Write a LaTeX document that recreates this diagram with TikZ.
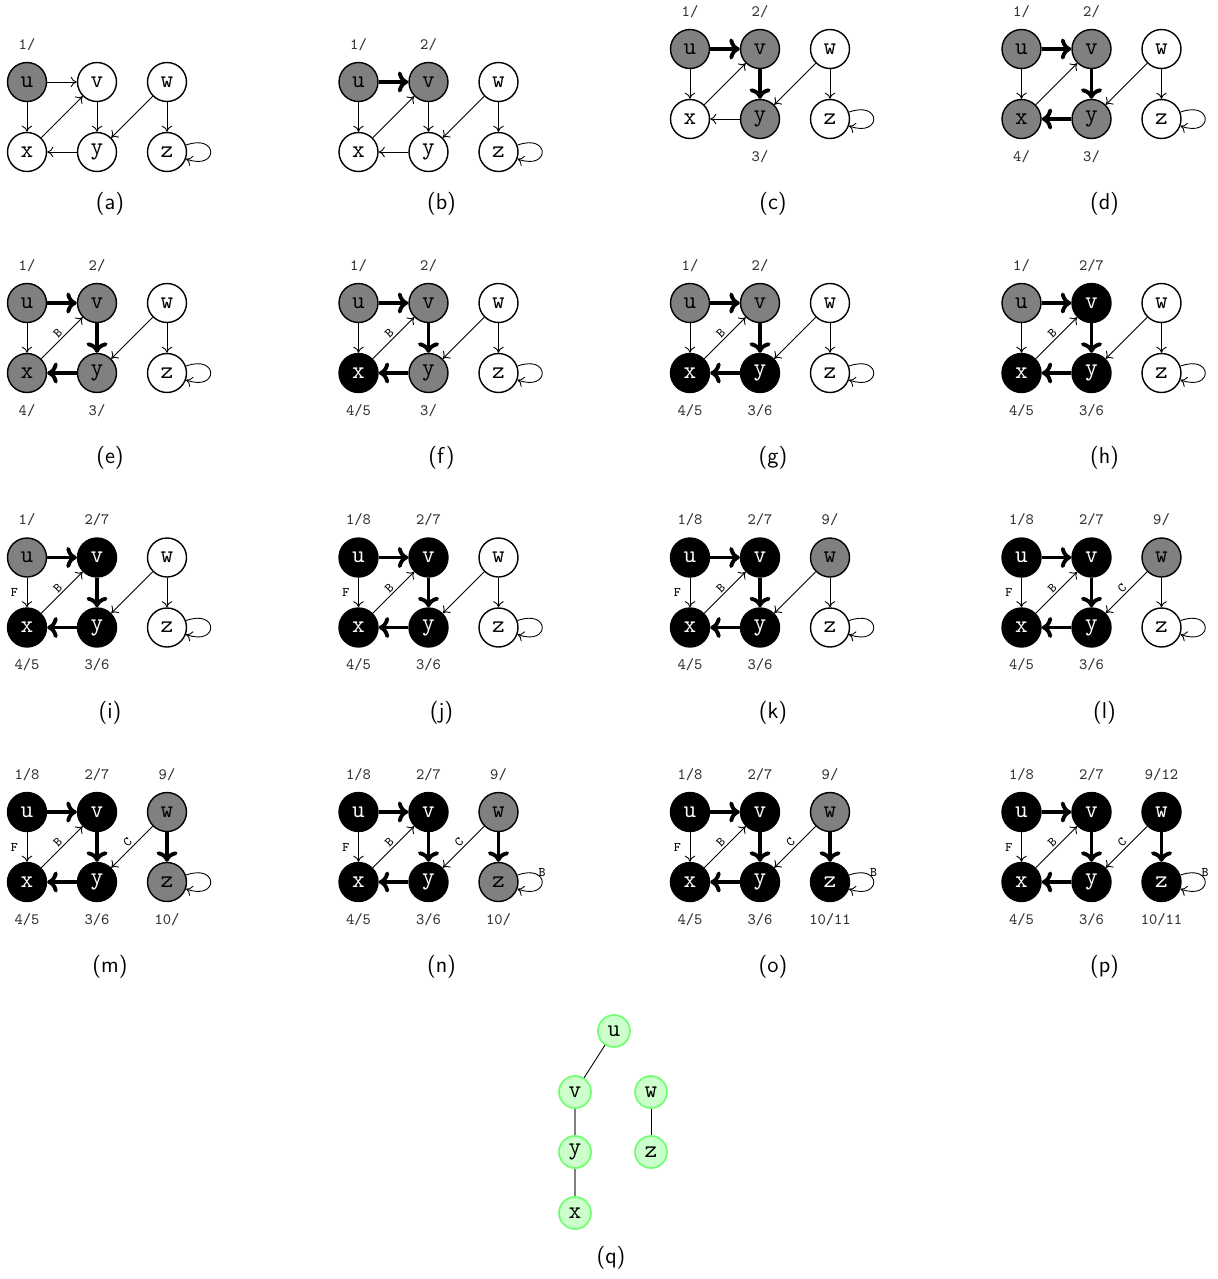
\documentclass[tikz,border=0pt]{standalone}
\usepackage{tikz}
\usetikzlibrary{arrows.meta}

% one DFS snapshot: prefix, then the styles of u v w x y z
\newcommand{\dfsgraph}[7]{%
  \node[#2] (#1u) at (0,0)     {u};
  \node[#3] (#1v) at (70,0)    {v};
  \node[#4] (#1w) at (140,0)   {w};
  \node[#5] (#1x) at (0,-70)   {x};
  \node[#6] (#1y) at (70,-70)  {y};
  \node[#7] (#1z) at (140,-70) {z};
}
% its edges: prefix, then the styles of uv ux xv vy yx wy wz
\newcommand{\dfsedges}[8]{%
  \draw[#2] (#1u) -- (#1v);
  \draw[#3] (#1u) -- (#1x);
  \draw[#4] (#1x) -- (#1v);
  \draw[#5] (#1v) -- (#1y);
  \draw[#6] (#1y) -- (#1x);
  \draw[#7] (#1w) -- (#1y);
  \draw[#8] (#1w) -- (#1z);
  \draw[plainarr] (#1z) to[selfloop] (#1z);
}

\begin{document}
\begin{tikzpicture}[
  x=0.02cm, y=0.02cm,
  vert/.style     = {circle, draw=black, line width=0.8pt, minimum size=0.78cm,
                     inner sep=0pt, font=\ttfamily\fontsize{14}{16}\selectfont},
  vw/.style       = {vert, fill=white},
  vg/.style       = {vert, fill=gray, label={[stamp]above:#1}},
  vb/.style       = {vert, fill=black, text=white, label={[stamp]above:#1}},
  vgl/.style      = {vert, fill=gray, label={[stamp]below:#1}},
  vbl/.style      = {vert, fill=black, text=white, label={[stamp]below:#1}},
  stamp/.style    = {font=\ttfamily\fontsize{9}{10}\selectfont, inner sep=0pt,
                     text height=5.5pt, text depth=0pt, text=black!80},
  label distance  = 6.9pt,
  plainarr/.style = {-{To[length=3.5pt,width=6pt]}, line width=0.5pt},
  treearr/.style  = {-{To[length=6pt,width=12pt]}, line width=2.2pt},
  selfloop/.style = {out=20, in=-20, distance=0.7cm},
  elab/.style     = {font=\ttfamily\fontsize{7.5}{8}\selectfont, inner sep=1pt},
  caption/.style  = {font=\sffamily\fontsize{13}{15}\selectfont},
  tnode/.style    = {circle, draw=green!55, fill=green!20, line width=1pt,
                     minimum size=0.64cm, inner sep=0pt,
                     font=\ttfamily\fontsize{14}{16}\selectfont},
  tlink/.style    = {line width=0.5pt},
  tpath/.style    = {draw=gray, line width=1pt},
]
\useasboundingbox (0,0) rectangle (1218,-1279);

% (a)
\begin{scope}[shift={(27,-82)}]
  \dfsgraph{a}{vg=1/}{vw}{vw}{vw}{vw}{vw}
  \dfsedges{a}{plainarr}{plainarr}{plainarr}{plainarr}{plainarr}{plainarr}{plainarr}
  \node[caption] (acap) at (83,-122) {(a)};
\end{scope}
% (b)
\begin{scope}[shift={(358.5,-82)}]
  \dfsgraph{b}{vg=1/}{vg=2/}{vw}{vw}{vw}{vw}
  \dfsedges{b}{treearr}{plainarr}{plainarr}{plainarr}{plainarr}{plainarr}{plainarr}
  \node[caption] (bcap) at (83,-122) {(b)};
\end{scope}
% (c)
\begin{scope}[shift={(690,-49)}]
  \dfsgraph{c}{vg=1/}{vg=2/}{vw}{vw}{vgl=3/}{vw}
  \dfsedges{c}{treearr}{plainarr}{plainarr}{treearr}{plainarr}{plainarr}{plainarr}
  \node[caption] (ccap) at (83,-155) {(c)};
\end{scope}
% (d)
\begin{scope}[shift={(1021.5,-49)}]
  \dfsgraph{d}{vg=1/}{vg=2/}{vw}{vgl=4/}{vgl=3/}{vw}
  \dfsedges{d}{treearr}{plainarr}{plainarr}{treearr}{treearr}{plainarr}{plainarr}
  \node[caption] (dcap) at (83,-155) {(d)};
\end{scope}

% (e)
\begin{scope}[shift={(27,-303)}]
  \dfsgraph{e}{vg=1/}{vg=2/}{vw}{vgl=4/}{vgl=3/}{vw}
  \dfsedges{e}{treearr}{plainarr}{plainarr}{treearr}{treearr}{plainarr}{plainarr}
  \path (ex) -- node[elab, sloped, above] (eB) {B} (ev);
  \node[caption] (ecap) at (83,-155) {(e)};
\end{scope}
% (f)
\begin{scope}[shift={(358.5,-303)}]
  \dfsgraph{f}{vg=1/}{vg=2/}{vw}{vbl=4/5}{vgl=3/}{vw}
  \dfsedges{f}{treearr}{plainarr}{plainarr}{treearr}{treearr}{plainarr}{plainarr}
  \path (fx) -- node[elab, sloped, above] (fB) {B} (fv);
  \node[caption] (fcap) at (83,-155) {(f)};
\end{scope}
% (g)
\begin{scope}[shift={(690,-303)}]
  \dfsgraph{g}{vg=1/}{vg=2/}{vw}{vbl=4/5}{vbl=3/6}{vw}
  \dfsedges{g}{treearr}{plainarr}{plainarr}{treearr}{treearr}{plainarr}{plainarr}
  \path (gx) -- node[elab, sloped, above] (gB) {B} (gv);
  \node[caption] (gcap) at (83,-155) {(g)};
\end{scope}
% (h)
\begin{scope}[shift={(1021.5,-303)}]
  \dfsgraph{h}{vg=1/}{vb=2/7}{vw}{vbl=4/5}{vbl=3/6}{vw}
  \dfsedges{h}{treearr}{plainarr}{plainarr}{treearr}{treearr}{plainarr}{plainarr}
  \path (hx) -- node[elab, sloped, above] (hB) {B} (hv);
  \node[caption] (hcap) at (83,-155) {(h)};
\end{scope}

% (i)
\begin{scope}[shift={(27,-557.5)}]
  \dfsgraph{i}{vg=1/}{vb=2/7}{vw}{vbl=4/5}{vbl=3/6}{vw}
  \dfsedges{i}{treearr}{plainarr}{plainarr}{treearr}{treearr}{plainarr}{plainarr}
  \path (ix) -- node[elab, sloped, above] (iB) {B} (iv);
  \path (iu) -- node[elab, left=4pt] (iF) {F} (ix);
  \node[caption] (icap) at (83,-155) {(i)};
\end{scope}
% (j)
\begin{scope}[shift={(358.5,-557.5)}]
  \dfsgraph{j}{vb=1/8}{vb=2/7}{vw}{vbl=4/5}{vbl=3/6}{vw}
  \dfsedges{j}{treearr}{plainarr}{plainarr}{treearr}{treearr}{plainarr}{plainarr}
  \path (jx) -- node[elab, sloped, above] (jB) {B} (jv);
  \path (ju) -- node[elab, left=4pt] (jF) {F} (jx);
  \node[caption] (jcap) at (83,-155) {(j)};
\end{scope}
% (k)
\begin{scope}[shift={(690,-557.5)}]
  \dfsgraph{k}{vb=1/8}{vb=2/7}{vg=9/}{vbl=4/5}{vbl=3/6}{vw}
  \dfsedges{k}{treearr}{plainarr}{plainarr}{treearr}{treearr}{plainarr}{plainarr}
  \path (kx) -- node[elab, sloped, above] (kB) {B} (kv);
  \path (ku) -- node[elab, left=4pt] (kF) {F} (kx);
  \node[caption] (kcap) at (83,-155) {(k)};
\end{scope}
% (l)
\begin{scope}[shift={(1021.5,-557.5)}]
  \dfsgraph{l}{vb=1/8}{vb=2/7}{vg=9/}{vbl=4/5}{vbl=3/6}{vw}
  \dfsedges{l}{treearr}{plainarr}{plainarr}{treearr}{treearr}{plainarr}{plainarr}
  \path (lx) -- node[elab, sloped, above] (lB) {B} (lv);
  \path (lu) -- node[elab, left=4pt] (lF) {F} (lx);
  \path (lw) -- node[elab, sloped, above] (lC) {C} (ly);
  \node[caption] (lcap) at (83,-155) {(l)};
\end{scope}

% (m)
\begin{scope}[shift={(27,-812)}]
  \dfsgraph{m}{vb=1/8}{vb=2/7}{vg=9/}{vbl=4/5}{vbl=3/6}{vgl=10/}
  \dfsedges{m}{treearr}{plainarr}{plainarr}{treearr}{treearr}{plainarr}{treearr}
  \path (mx) -- node[elab, sloped, above] (mB) {B} (mv);
  \path (mu) -- node[elab, left=4pt] (mF) {F} (mx);
  \path (mw) -- node[elab, sloped, above] (mC) {C} (my);
  \node[caption] (mcap) at (83,-155) {(m)};
\end{scope}
% (n)
\begin{scope}[shift={(358.5,-812)}]
  \dfsgraph{n}{vb=1/8}{vb=2/7}{vg=9/}{vbl=4/5}{vbl=3/6}{vgl=10/}
  \dfsedges{n}{treearr}{plainarr}{plainarr}{treearr}{treearr}{plainarr}{treearr}
  \path (nx) -- node[elab, sloped, above] (nB) {B} (nv);
  \path (nu) -- node[elab, left=4pt] (nF) {F} (nx);
  \path (nw) -- node[elab, sloped, above] (nC) {C} (ny);
  \path (nz) to[selfloop] node[elab, above=2pt] (nL) {B} (nz);
  \node[caption] (ncap) at (83,-155) {(n)};
\end{scope}
% (o)
\begin{scope}[shift={(690,-812)}]
  \dfsgraph{o}{vb=1/8}{vb=2/7}{vg=9/}{vbl=4/5}{vbl=3/6}{vbl=10/11}
  \dfsedges{o}{treearr}{plainarr}{plainarr}{treearr}{treearr}{plainarr}{treearr}
  \path (ox) -- node[elab, sloped, above] (oB) {B} (ov);
  \path (ou) -- node[elab, left=4pt] (oF) {F} (ox);
  \path (ow) -- node[elab, sloped, above] (oC) {C} (oy);
  \path (oz) to[selfloop] node[elab, above=2pt] (oL) {B} (oz);
  \node[caption] (ocap) at (83,-155) {(o)};
\end{scope}
% (p)
\begin{scope}[shift={(1021.5,-812)}]
  \dfsgraph{p}{vb=1/8}{vb=2/7}{vb=9/12}{vbl=4/5}{vbl=3/6}{vbl=10/11}
  \dfsedges{p}{treearr}{plainarr}{plainarr}{treearr}{treearr}{plainarr}{treearr}
  \path (px) -- node[elab, sloped, above] (pB) {B} (pv);
  \path (pu) -- node[elab, left=4pt] (pF) {F} (px);
  \path (pw) -- node[elab, sloped, above] (pC) {C} (py);
  \path (pz) to[selfloop] node[elab, above=2pt] (pL) {B} (pz);
  \node[caption] (pcap) at (83,-155) {(p)};
\end{scope}

% (q) the depth-first forest
\node[tnode] (qu) at (614,-1031) {u};
\node[tnode] (qv) at (575,-1092) {v};
\node[tnode] (qw) at (651,-1092) {w};
\node[tnode] (qy) at (575,-1152) {y};
\node[tnode] (qz) at (651,-1152) {z};
\node[tnode] (qx) at (575,-1213) {x};
\draw[tlink] (qu) -- (qv);
\draw[tpath] (qv) -- (qy);
\draw[tpath] (qy) -- (qx);
\draw[tlink] (qw) -- (qz);
\node[caption] (qcap) at (611,-1258) {(q)};
\end{tikzpicture}
\end{document}
